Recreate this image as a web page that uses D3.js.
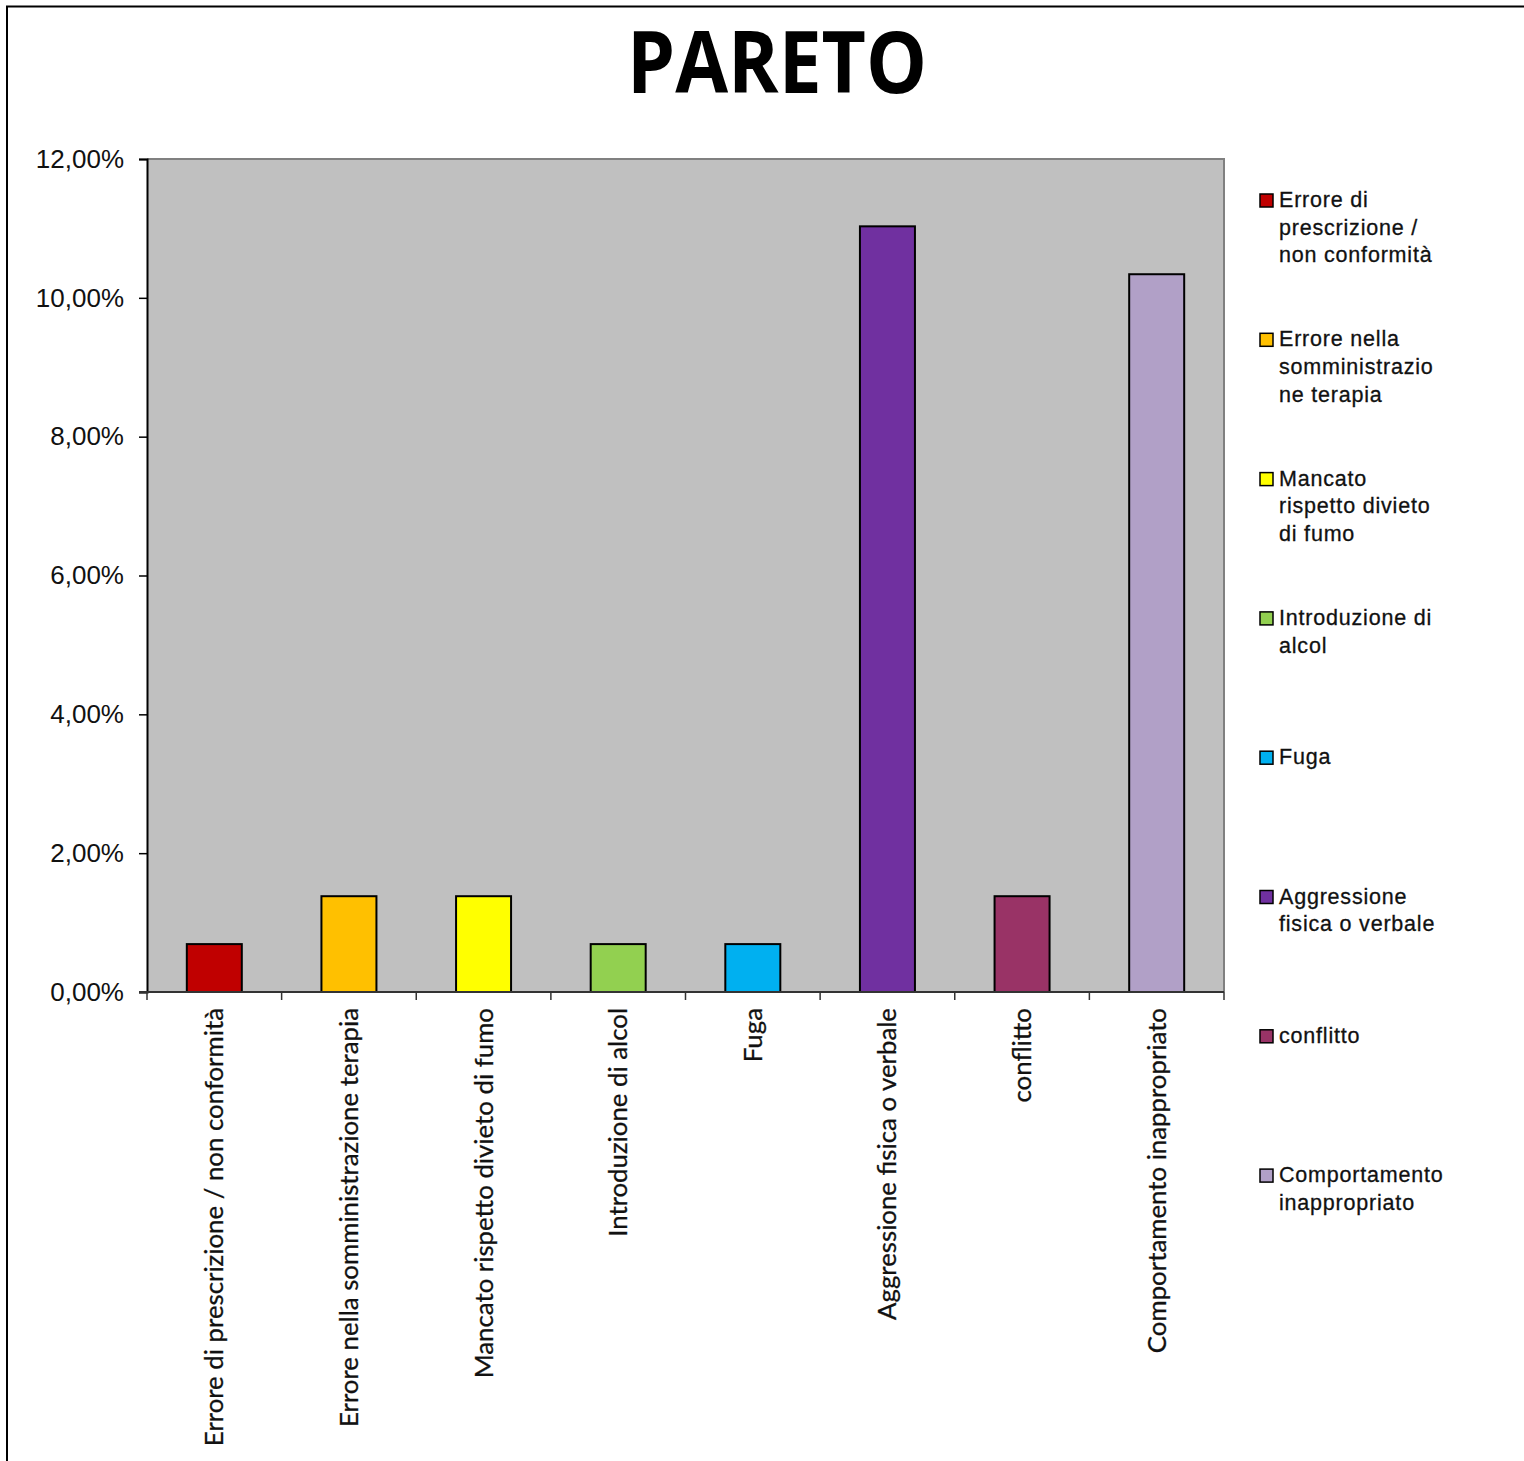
<!DOCTYPE html>
<html>
<head>
<meta charset="utf-8">
<script src="https://cdn.jsdelivr.net/npm/d3@7"></script>
<style>
    html, body { margin: 0; padding: 0; background: #fff; }
    svg { display: block; }
</style>
</head>
<body>
<svg id="chart" width="1524" height="1461"></svg>
<script>
var categories = [
    "Errore di prescrizione / non conformità",
    "Errore nella somministrazione terapia",
    "Mancato rispetto divieto di fumo",
    "Introduzione di alcol",
    "Fuga",
    "Aggressione fisica o verbale",
    "conflitto",
    "Comportamento inappropriato"
];
var values = [ 0.69, 1.38, 1.38, 0.69, 0.69, 11.03, 1.38, 10.34 ];
var colors = [ "#c00000", "#ffc000", "#ffff00", "#92d050", "#00b0f0", "#7030a0", "#993366", "#b1a0c7" ];
var legendLines = [
    [ "Errore di", "prescrizione /", "non conformità" ],
    [ "Errore nella", "somministrazio", "ne terapia" ],
    [ "Mancato", "rispetto divieto", "di fumo" ],
    [ "Introduzione di", "alcol" ],
    [ "Fuga" ],
    [ "Aggressione", "fisica o verbale" ],
    [ "conflitto" ],
    [ "Comportamento", "inappropriato" ]
];
var yTicks = [ 0, 2, 4, 6, 8, 10, 12 ];

var Pareto = function( svg ) {
    var box = { left: 147, top: 159, right: 1224, bottom: 992 },
        x, y, fmt;

    function init() {
        x = d3.scaleBand().domain( categories ).range( [ box.left, box.right ] ).padding( 0 );
        y = d3.scaleLinear().domain( [ 0, 12 ] ).range( [ box.bottom, box.top ] );
        fmt = d3.formatLocale( { decimal: ",", thousands: ".", grouping: [ 3 ], currency: [ "", "" ] } ).format( ".2f" );

        drawFrame();
        drawTitle();
        drawPlot();
        drawBars();
        drawAxes();
        drawLegend();
    }

    function drawFrame() {
        svg.append( "line" ).attr( "x1", 6 ).attr( "x2", 1524 ).attr( "y1", 6.5 ).attr( "y2", 6.5 )
            .attr( "stroke", "#000" ).attr( "stroke-width", 2 );
        svg.append( "line" ).attr( "x1", 7 ).attr( "x2", 7 ).attr( "y1", 6 ).attr( "y2", 1461 )
            .attr( "stroke", "#000" ).attr( "stroke-width", 2 );
    }

    function drawTitle() {
        svg.append( "text" )
            .attr( "x", 777 ).attr( "y", 93 )
            .attr( "text-anchor", "middle" )
            .attr( "textLength", 300 ).attr( "lengthAdjust", "spacingAndGlyphs" )
            .style( "font-family", "'Open Sans', sans-serif" )
            .style( "font-weight", "bold" )
            .style( "font-size", "86px" )
            .text( "PARETO" );
    }

    function drawPlot() {
        svg.append( "rect" )
            .attr( "x", box.left ).attr( "y", box.top )
            .attr( "width", box.right - box.left ).attr( "height", box.bottom - box.top )
            .attr( "fill", "#c0c0c0" );
        svg.append( "path" )
            .attr( "d", "M" + box.left + "," + box.top + "H" + box.right + "V" + box.bottom )
            .attr( "fill", "none" ).attr( "stroke", "#808080" ).attr( "stroke-width", 2 );
    }

    function drawBars() {
        var w = 55;

        svg.append( "g" ).attr( "class", "bars" )
            .selectAll( "rect" )
            .data( values )
            .join( "rect" )
            .attr( "x", function( d, i ) { return x( categories[ i ] ) + x.bandwidth() / 2 - w / 2; } )
            .attr( "y", function( d ) { return y( d ); } )
            .attr( "width", w )
            .attr( "height", function( d ) { return y( 0 ) - y( d ); } )
            .attr( "fill", function( d, i ) { return colors[ i ]; } )
            .attr( "stroke", "#000" )
            .attr( "stroke-width", 2 );
    }

    function drawAxes() {
        var yAxis = svg.append( "g" )
            .attr( "transform", "translate(" + box.left + ",0)" )
            .call( d3.axisLeft( y ).tickValues( yTicks ).tickSize( 8 ).tickPadding( 15 )
                .tickFormat( function( d ) { return fmt( d ) + "%"; } ) );

        yAxis.select( ".domain" ).attr( "stroke", "#000" ).attr( "stroke-width", 2 );
        yAxis.selectAll( ".tick line" ).attr( "stroke", "#000" ).attr( "stroke-width", 1.5 );
        yAxis.selectAll( ".tick text" )
            .attr( "fill", "#111" )
            .style( "font-family", "'Liberation Sans', Arial, sans-serif" )
            .style( "font-size", "26px" );

        // ticks sit on category boundaries, labels on category centres
        var bounds = categories.map( function( c ) { return x( c ); } ).concat( [ box.right ] );
        var xAxis = svg.append( "g" ).attr( "class", "x-axis" );

        xAxis.append( "line" )
            .attr( "x1", box.left - 8 ).attr( "x2", box.right )
            .attr( "y1", box.bottom ).attr( "y2", box.bottom )
            .attr( "stroke", "#333" ).attr( "stroke-width", 2 );

        xAxis.selectAll( ".xtick" )
            .data( bounds )
            .join( "line" )
            .attr( "class", "xtick" )
            .attr( "x1", function( d ) { return d; } ).attr( "x2", function( d ) { return d; } )
            .attr( "y1", box.bottom ).attr( "y2", box.bottom + 8 )
            .attr( "stroke", "#333" ).attr( "stroke-width", 1.5 );

        xAxis.selectAll( ".xlabel" )
            .data( categories )
            .join( "text" )
            .attr( "class", "xlabel" )
            .attr( "transform", function( d ) {
                return "translate(" + ( x( d ) + x.bandwidth() / 2 + 9 ) + "," + ( box.bottom + 16 ) + ") rotate(-90)";
            } )
            .attr( "text-anchor", "end" )
            .attr( "fill", "#111" )
            .attr( "stroke", "#111" ).attr( "stroke-width", 0.3 )
            .style( "font-family", "Lato, sans-serif" )
            .style( "font-size", "25.8px" )
            .text( function( d ) { return d; } );
    }

    function drawLegend() {
        var step = 139.3, top = 207;

        var item = svg.append( "g" ).attr( "class", "legend" )
            .selectAll( "g" )
            .data( legendLines )
            .join( "g" )
            .attr( "transform", function( d, i ) { return "translate(1260," + ( top + i * step ) + ")"; } );

        item.append( "rect" )
            .attr( "x", 0 ).attr( "y", -13 )
            .attr( "width", 13 ).attr( "height", 13 )
            .attr( "fill", function( d, i ) { return colors[ i ]; } )
            .attr( "stroke", "#000" ).attr( "stroke-width", 1.5 );

        item.append( "text" )
            .attr( "x", 19 )
            .attr( "fill", "#111" )
            .attr( "stroke", "#111" ).attr( "stroke-width", 0.3 )
            .style( "font-family", "'Liberation Sans', Arial, sans-serif" )
            .style( "font-size", "21.5px" )
            .style( "letter-spacing", "0.8px" )
            .selectAll( "tspan" )
            .data( function( d ) { return d; } )
            .join( "tspan" )
            .attr( "x", 19 )
            .attr( "y", function( d, i ) { return i * 27.7; } )
            .text( function( d ) { return d; } );
    }

    init();
};

Pareto( d3.select( "#chart" ) );
</script>
</body>
</html>
